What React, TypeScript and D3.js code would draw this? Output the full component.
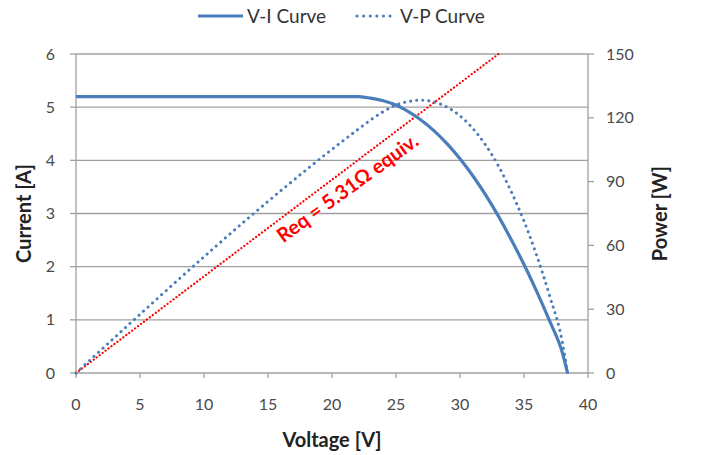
import React from "react";
import * as d3 from "d3";

const voltage = [0, 22, 23, 24, 25, 26, 27, 28, 29, 30, 31, 32, 33, 34, 35, 36, 37, 38, 38.4];
const current = [5.2, 5.2, 5.17, 5.12, 5.04, 4.91, 4.75, 4.55, 4.31, 4.03, 3.71, 3.35, 2.95, 2.51, 2.04, 1.53, 0.98, 0.38, 0];
const power = [0, 114.4, 118.9, 122.9, 126.0, 127.7, 128.3, 127.4, 125.0, 120.9, 115.0, 107.2, 97.4, 85.3, 71.4, 55.1, 36.3, 14.4, 0];
const reqV = [0, 33];
const reqI = [0, 6];
const xTicks = [0, 5, 10, 15, 20, 25, 30, 35, 40];
const iTicks = [0, 1, 2, 3, 4, 5, 6];
const pTicks = [0, 30, 60, 90, 120, 150];

const W = 702, H = 455;
const font = "Lato, 'Open Sans', sans-serif";
const blue = "#4a7ebb";
const grid = "#a0a0a0";

export default function App() {
  const x = d3.scaleLinear().domain([0, 40]).range([76, 588]);
  const y = d3.scaleLinear().domain([0, 6]).range([373, 54]);
  const yp = d3.scaleLinear().domain([0, 150]).range([373, 54]);

  const viLine = d3.line<number>().x((_, i) => x(voltage[i])).y((d) => y(d)).curve(d3.curveMonotoneX);
  const vpLine = d3.line<number>().x((_, i) => x(voltage[i])).y((d) => yp(d)).curve(d3.curveMonotoneX);
  const reqLine = d3.line<number>().x((_, i) => x(reqV[i])).y((d) => y(d));

  const [x0, x1] = x.range();
  const labelX = x(21.3), labelY = y(3.45);

  return (
    <svg width={W} height={H} style={{ position: "absolute", left: 0, top: 0, background: "#fff" }} fontFamily={font}>
      {/* gridlines */}
      {iTicks.map((t) => (
        <line key={"g" + t} x1={x0} x2={x1} y1={y(t)} y2={y(t)} stroke={grid} strokeWidth={1.3} />
      ))}
      {/* axes */}
      <line x1={x0} x2={x0} y1={y(0)} y2={y(6)} stroke={grid} strokeWidth={1.3} />
      <line x1={x1} x2={x1} y1={y(0)} y2={y(6)} stroke={grid} strokeWidth={1.3} />
      {iTicks.map((t) => (
        <g key={"li" + t}>
          <line x1={x0 - 6} x2={x0} y1={y(t)} y2={y(t)} stroke={grid} strokeWidth={1.3} />
          <text x={55} y={y(t)} dy="0.35em" textAnchor="end" fontSize={16} fill="#4a4a4a">{t}</text>
        </g>
      ))}
      {pTicks.map((t) => (
        <g key={"rp" + t}>
          <line x1={x1} x2={x1 + 6} y1={yp(t)} y2={yp(t)} stroke={grid} strokeWidth={1.3} />
          <text x={606} y={yp(t)} dy="0.35em" textAnchor="start" fontSize={16} fill="#4a4a4a">{t}</text>
        </g>
      ))}
      {xTicks.map((t) => (
        <g key={"xt" + t}>
          <line x1={x(t)} x2={x(t)} y1={y(0)} y2={y(0) + 5} stroke={grid} strokeWidth={1.3} />
          <text x={x(t)} y={404} dy="0.35em" textAnchor="middle" fontSize={16} fill="#4a4a4a">{t}</text>
        </g>
      ))}

      {/* series */}
      <path d={reqLine(reqI) || ""} fill="none" stroke="#ff0000" strokeWidth={2.2} strokeDasharray="0.1,3.6" strokeLinecap="round" />
      <path d={vpLine(power) || ""} fill="none" stroke={blue} strokeWidth={3} strokeDasharray="0.1,6" strokeLinecap="round" />
      <path d={viLine(current) || ""} fill="none" stroke={blue} strokeWidth={3.2} />

      {/* annotation */}
      <text x={labelX} y={labelY} textAnchor="middle" dominantBaseline="middle" fontSize={20} fontWeight="bold" fill="#ff0000"
        transform={`rotate(-36 ${labelX} ${labelY})`}>Req = 5.31Ω equiv.</text>

      {/* axis titles */}
      <text transform={`translate(26 ${(y(0) + y(6)) / 2}) rotate(-90)`} textAnchor="middle" dominantBaseline="middle" fontSize={20} fontWeight="bold" fill="#222">Current [A]</text>
      <text transform={`translate(662 ${(y(0) + y(6)) / 2}) rotate(-90)`} textAnchor="middle" dominantBaseline="middle" fontSize={20} fontWeight="bold" fill="#222">Power [W]</text>
      <text x={(x0 + x1) / 2} y={442} textAnchor="middle" dominantBaseline="middle" fontSize={20} fontWeight="bold" fill="#222">Voltage [V]</text>

      {/* legend */}
      <line x1={198} x2={243} y1={16} y2={16} stroke={blue} strokeWidth={3.2} />
      <text x={247} y={16} dy="0.35em" fontSize={19} fill="#333">V-I Curve</text>
      <line x1={357} x2={391} y1={16} y2={16} stroke={blue} strokeWidth={3} strokeDasharray="0.1,6.5" strokeLinecap="round" />
      <text x={400} y={16} dy="0.35em" fontSize={19} fill="#333">V-P Curve</text>
    </svg>
  );
}
